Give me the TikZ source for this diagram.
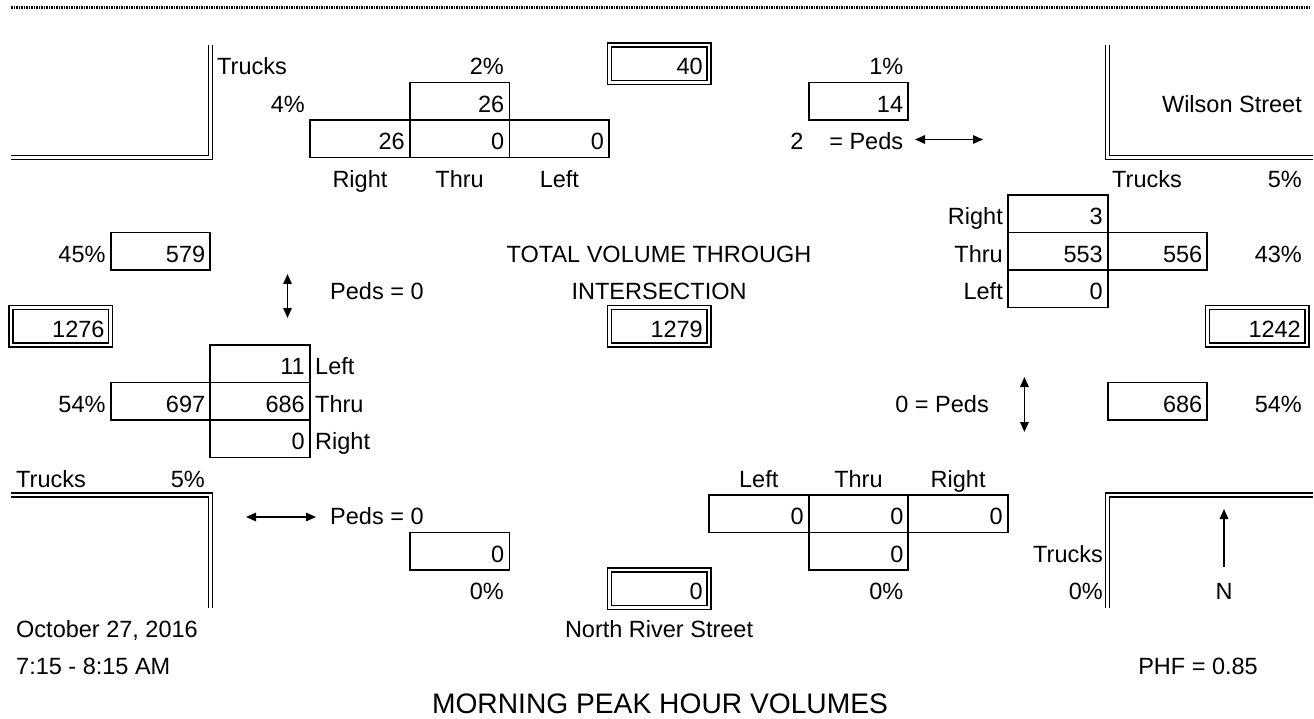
\documentclass[tikz,border=0pt]{standalone}
\usepackage{fontspec}
\setmainfont{Liberation Sans}
\usetikzlibrary{arrows.meta}
\begin{document}
\begin{tikzpicture}[x=1pt,y=-1pt,
  txt/.style={font=\fontsize{23.5}{28}\selectfont, inner sep=0pt, text height=16.8pt, text depth=0pt, yshift=-2.5pt},
  r/.style={txt, anchor=east},
  l/.style={txt, anchor=west},
  c/.style={txt, anchor=center},
  box/.style={draw, line width=1.9pt, minimum width=99.7pt, minimum height=37.5pt, inner sep=0pt, outer sep=0pt},
  dbox/.style={draw, double, double distance=2.6pt, line width=1.4pt, minimum width=99.7pt, minimum height=37.5pt, inner sep=0pt, outer sep=0pt},
  dline/.style={double, double distance=2.6pt, line width=1.4pt},
  dotline/.style={line width=2.2pt, dash pattern=on 1.5pt off 1pt},
  biarrow/.style={line width=1.5pt, {Triangle[length=10pt,width=8.5pt]}-{Triangle[length=10pt,width=8.5pt]}},
  onearrow/.style={line width=1.5pt, -{Triangle[length=10pt,width=8.5pt]}}
]
\useasboundingbox (0,0) rectangle (1314,719);
\fill[white] (0,0) rectangle (1314,719);

% top dotted rule
\coordinate (dotA) at (11,7.5);
\coordinate (dotB) at (1310,7.5);
\draw[dotline] (dotA) -- (dotB);

% street corners (double lines)
\draw[dline] (11,157.5) -- (210.4,157.5) -- (210.4,45);
\draw[dline] (1313,157.5) -- (1107.7,157.5) -- (1107.7,45);
\draw[dline] (11,495) -- (210.4,495) -- (210.4,607.5);
\draw[dline] (1313,495) -- (1107.7,495) -- (1107.7,607.5);

% single boxes
\node[box] (b26u) at (459.65,101.25) {};
\node[box] (bR26) at (359.95,138.75) {};
\node[box] (bT0) at (459.65,138.75) {};
\node[box] (bL0) at (559.35,138.75) {};
\node[box] (b14) at (858.45,101.25) {};
\node[box] (bE3) at (1057.85,213.75) {};
\node[box] (bE553) at (1057.85,251.25) {};
\node[box] (bE556) at (1157.55,251.25) {};
\node[box] (bE0) at (1057.85,288.75) {};
\node[box] (bW579) at (160.55,251.25) {};
\node[box] (bW11) at (260.25,363.75) {};
\node[box] (bW697) at (160.55,401.25) {};
\node[box] (bW686) at (260.25,401.25) {};
\node[box] (bW0) at (260.25,438.75) {};
\node[box] (bE686) at (1157.55,401.25) {};
\node[box] (bS0L) at (758.75,513.75) {};
\node[box] (bS0T) at (858.45,513.75) {};
\node[box] (bS0R) at (958.15,513.75) {};
\node[box] (bS0) at (858.45,551.25) {};
\node[box] (bSW0) at (459.65,551.25) {};

% double boxes
\node[dbox] (d40) at (659.05,63.75) {};
\node[dbox] (d1276) at (60.85,326.25) {};
\node[dbox] (d1279) at (659.05,326.25) {};
\node[dbox] (d1242) at (1257.25,326.25) {};
\node[dbox] (d0) at (659.05,588.75) {};

% row A
\node[l] (tA1) at (217,63.75) {Trucks};
\node[r] (tA2) at (504,63.75) {2\%};
\node[r] (tA3) at (703,63.75) {40};
\node[r] (tA4) at (903.5,63.75) {1\%};
% row B
\node[r] (tB1) at (305,101.25) {4\%};
\node[r] (tB2) at (504.5,101.25) {26};
\node[r] (tB3) at (903.3,101.25) {14};
\node[r] (tB4) at (1302,101.25) {Wilson Street};
% row C
\node[r] (tC1) at (405,138.75) {26};
\node[r] (tC2) at (504.5,138.75) {0};
\node[r] (tC3) at (604.2,138.75) {0};
\node[r] (tC4) at (803.6,138.75) {2};
\node[r] (tC5) at (903.3,138.75) {= Peds};
% row D
\node[c] (tD1) at (359.95,176.25) {Right};
\node[c] (tD2) at (459.65,176.25) {Thru};
\node[c] (tD3) at (559.35,176.25) {Left};
\node[l] (tD4) at (1112,176.25) {Trucks};
\node[r] (tD5) at (1302,176.25) {5\%};
% row E
\node[r] (tE1) at (1003,213.75) {Right};
\node[r] (tE2) at (1103,213.75) {3};
% row F
\node[r] (tF1) at (105.7,251.25) {45\%};
\node[r] (tF2) at (205.4,251.25) {579};
\node[c] (tF3) at (659.05,251.25) {TOTAL VOLUME THROUGH};
\node[r] (tF4) at (1003,251.25) {Thru};
\node[r] (tF5) at (1103,251.25) {553};
\node[r] (tF6) at (1202.4,251.25) {556};
\node[r] (tF7) at (1302,251.25) {43\%};
% row G
\node[l] (tG1) at (330,288.75) {Peds = 0};
\node[c] (tG2) at (659.05,288.75) {INTERSECTION};
\node[r] (tG3) at (1003,288.75) {Left};
\node[r] (tG4) at (1103,288.75) {0};
% row H
\node[r] (tH1) at (104.7,326.25) {1276};
\node[r] (tH2) at (703,326.25) {1279};
\node[r] (tH3) at (1301,326.25) {1242};
% row I
\node[r] (tI1) at (305,363.75) {11};
\node[l] (tI2) at (315,363.75) {Left};
% row J
\node[r] (tJ1) at (105.7,401.25) {54\%};
\node[r] (tJ2) at (205.4,401.25) {697};
\node[r] (tJ3) at (305,401.25) {686};
\node[l] (tJ4) at (315,401.25) {Thru};
\node[r] (tJ5) at (989,401.25) {0 = Peds};
\node[r] (tJ6) at (1202.4,401.25) {686};
\node[r] (tJ7) at (1302,401.25) {54\%};
% row K
\node[r] (tK1) at (305,438.75) {0};
\node[l] (tK2) at (315,438.75) {Right};
% row L
\node[l] (tL1) at (16,476.25) {Trucks};
\node[r] (tL2) at (205,476.25) {5\%};
\node[c] (tL3) at (758.75,476.25) {Left};
\node[c] (tL4) at (858.45,476.25) {Thru};
\node[c] (tL5) at (958.15,476.25) {Right};
% row M
\node[l] (tM1) at (330,513.75) {Peds = 0};
\node[r] (tM2) at (803.9,513.75) {0};
\node[r] (tM3) at (903.6,513.75) {0};
\node[r] (tM4) at (1003,513.75) {0};
% row N
\node[r] (tN1) at (504.5,551.25) {0};
\node[r] (tN2) at (903.6,551.25) {0};
\node[r] (tN3) at (1103,551.25) {Trucks};
% row O
\node[r] (tO1) at (504,588.75) {0\%};
\node[r] (tO2) at (703,588.75) {0};
\node[r] (tO3) at (903.5,588.75) {0\%};
\node[r] (tO4) at (1103,588.75) {0\%};
\node[c] (tO5) at (1224,588.75) {N};
% row P
\node[l] (tP1) at (16,626.25) {October 27, 2016};
\node[c] (tP2) at (659.05,626.25) {North River Street};
% row Q
\node[l] (tQ1) at (16,663.75) {7:15 - 8:15 AM};
\node[c] (tQ2) at (1198,663.75) {PHF = 0.85};
% row R
\node[txt, anchor=center, font=\fontsize{28.2}{34}\selectfont, text height=20.2pt] (tR1) at (660,701.25) {MORNING PEAK HOUR VOLUMES};

% pedestrian arrows
\coordinate (pN1) at (915,139.5);
\coordinate (pN2) at (983,139.5);
\draw[biarrow] (pN1) -- (pN2);
\coordinate (pW1) at (287.5,274);
\coordinate (pW2) at (287.5,318);
\draw[biarrow] (pW1) -- (pW2);
\coordinate (pE1) at (1024.4,377);
\coordinate (pE2) at (1024.4,432);
\draw[biarrow] (pE1) -- (pE2);
\coordinate (pS1) at (246,517);
\coordinate (pS2) at (316,517);
\draw[biarrow] (pS1) -- (pS2);
% north arrow
\coordinate (nT) at (1224,567);
\draw[onearrow] (nT) -- (1224,509);
\end{tikzpicture}
\end{document}
